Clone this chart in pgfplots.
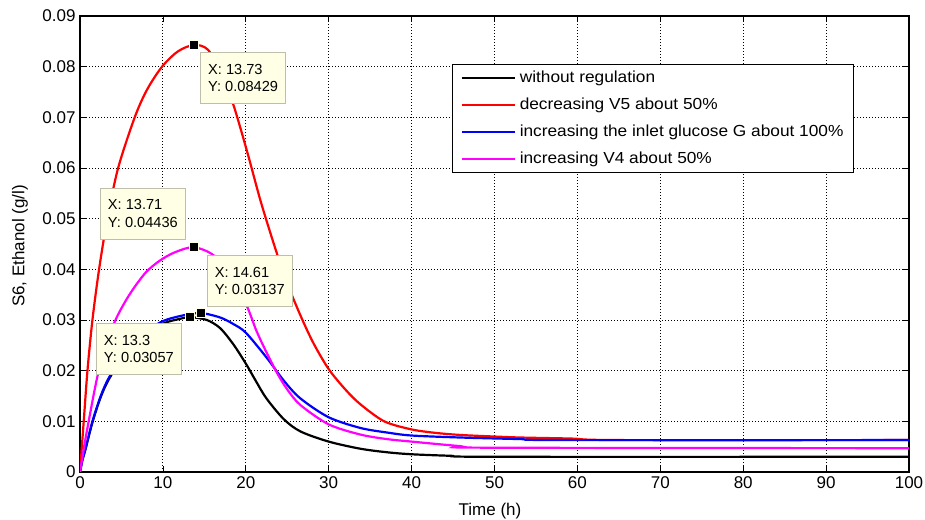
\documentclass[border=0pt]{standalone}
\usepackage{fontspec}
\setmainfont{Liberation Sans}
\newfontfamily\legfont[FakeStretch=1.08]{Liberation Sans}
\usepackage{pgfplots}
\pgfplotsset{compat=1.18}
\definecolor{tipfill}{RGB}{255,255,229}
\definecolor{tipdraw}{RGB}{190,190,170}
\definecolor{mred}{RGB}{255,0,0}
\definecolor{mblue}{RGB}{0,0,255}
\definecolor{mmag}{RGB}{255,0,255}
\tikzset{tip/.style={draw=tipdraw, fill=tipfill, line width=0.8bp, font=\fontsize{14.6bp}{17.5bp}\selectfont,
    align=left, minimum width=85bp, minimum height=51bp, inner sep=4bp, anchor=north west}}
\begin{document}
\begin{tikzpicture}
\begin{axis}[
  name=ax,
  scale only axis, width=829bp, height=456bp,
  xmin=0, xmax=100, ymin=0, ymax=0.09,
  xtick={0,10,...,100},
  ytick={0,0.01,0.02,0.03,0.04,0.05,0.06,0.07,0.08,0.09},
  yticklabels={0,0.01,0.02,0.03,0.04,0.05,0.06,0.07,0.08,0.09},
  scaled y ticks=false, scaled x ticks=false,
  /pgf/number format/assume math mode=true,
  tick align=inside, major tick length=6bp,
  tick style={black, line width=0.8bp},
  axis line style={black, line width=1.3bp},
  grid=major,
  major grid style={black, line width=0.9bp, dash pattern=on 1.4bp off 1.6bp},
  ticklabel style={font=\fontsize{17bp}{20bp}\selectfont},
  xticklabel style={yshift=-1bp},
  yticklabel style={xshift=-1bp},
  xlabel={Time (h)}, ylabel={S6, Ethanol (g/l)},
  label style={font=\fontsize{17bp}{20bp}\selectfont},
  xlabel style={at={(axis description cs:0.4946,-0.0855)}, anchor=center},
  ylabel style={at={(axis description cs:-0.0724,0.4956)}, anchor=center},
  legend style={at={(0.4487,0.8947)}, anchor=north west, draw=black, line width=1.2bp, fill=white,
    inner xsep=8bp, inner ysep=4bp, row sep=8bp,
    font=\legfont\fontsize{16bp}{18bp}\selectfont,
    nodes={inner xsep=2bp, inner ysep=2bp, text height=11.5bp, text depth=3.5bp},
    /tikz/every odd column/.append style={column sep=2bp}},
  legend cell align=left,
  legend image code/.code={\draw[#1, line width=2.2bp] (0bp,0bp) -- (53bp,0bp);},
  every axis plot/.append style={line width=2.2bp, smooth, tension=0.5},
]
% without regulation
\addplot[black] coordinates {
(0,0) (0.3,0.0024) (0.65,0.0044) (1.5,0.0098) (2.5,0.0148) (3.45,0.0182) (5,0.0222) (7,0.0260)
(9.9,0.0292) (12,0.0302) (13.3,0.03057) (15.3,0.0300) (16.9,0.0284) (18.5,0.0252)
(20,0.0214) (21.2,0.0180) (22.5,0.0145) (24.6,0.0104) (26.6,0.0080) (30,0.0060)
(33.8,0.0046) (37,0.0039) (40,0.0035) (44.7,0.0032) (50,0.0030) (100,0.0030)};
% decreasing V5
\addplot[mred] coordinates {
(0,0) (0.45,0.010) (0.9,0.020) (1.5,0.030) (2.3,0.040) (3.3,0.050)
(4.6,0.060) (6.6,0.070) (8.1,0.0755) (9.9,0.0800) (11.8,0.0830)
(13.73,0.08429) (15.4,0.0834) (17,0.0790) (18.5,0.0725) (20.2,0.0630) (21.8,0.0534)
(23.6,0.0439) (25,0.0372) (26.7,0.0305) (28.2,0.0253) (30,0.0203) (32,0.0163)
(33.8,0.0134) (36.7,0.0100) (40,0.0084) (43,0.0077) (46,0.0073) (50,0.0070)
(53.3,0.0068) (59.3,0.0066) (65,0.0063) (100,0.0063)};
% increasing inlet glucose
\addplot[mblue] coordinates {
(0,0) (0.3,0.0025) (0.65,0.0045) (1.5,0.0100) (2.5,0.0150) (3.45,0.0185) (5,0.0225) (7,0.0265)
(9.9,0.0297) (12.7,0.0310) (14.61,0.03137) (16.9,0.0305) (18.5,0.0292) (20,0.0275)
(22.5,0.0226) (24.6,0.0180) (26.6,0.0145) (30,0.0108) (33.8,0.0087) (37,0.0078)
(40,0.0072) (46,0.0068) (53,0.0065) (58,0.0063) (100,0.0063)};
% increasing V4
\addplot[mmag] coordinates {
(0,0) (0.5,0.0050) (1.0,0.0096) (2.05,0.0185) (3,0.0243) (4.2,0.0297) (5.3,0.0332)
(6.45,0.0362) (8,0.0395) (9.7,0.0418) (11.5,0.0434) (13.71,0.04436) (16.1,0.0428)
(18.5,0.0385) (20.2,0.0325) (21.3,0.0278) (22.5,0.0236) (23.75,0.0196) (25,0.0163)
(26.6,0.0132) (30,0.0094) (33.8,0.0074) (37,0.0065) (40,0.0060) (45.9,0.0051)
(49,0.0048) (100,0.0047)};
\legend{without regulation, decreasing V5 about 50\%, increasing the inlet glucose G about 100\%, increasing V4 about 50\%}
\addplot[forget plot, only marks, mark=square*, mark size=4.5bp, mark options={fill=black, draw=tipfill, line width=0.6bp}]
coordinates {(13.73,0.08429) (13.71,0.04436) (14.61,0.03137) (13.3,0.03057)};
\node[tip] at (axis cs:14.5,0.0829) {X: 13.73\\Y: 0.08429};
\node[tip] at (axis cs:2.41,0.0561) {X: 13.71\\Y: 0.04436};
\node[tip] at (axis cs:15.3,0.0428) {X: 14.61\\Y: 0.03137};
\node[tip] at (axis cs:1.93,0.0294) {X: 13.3\\Y: 0.03057};
\end{axis}
\pgfresetboundingbox
\path[use as bounding box] ([xshift=-80bp,yshift=-48bp]ax.south west) rectangle ++(925bp,520bp);
\end{tikzpicture}
\end{document}
